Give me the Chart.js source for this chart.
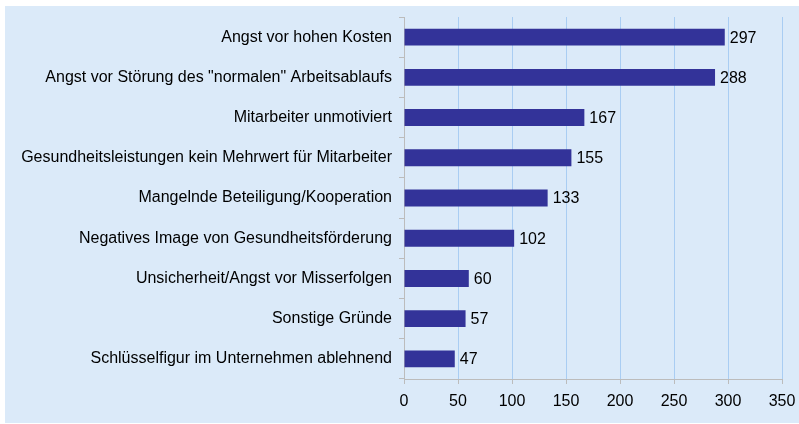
<!DOCTYPE html>
<html>
<head>
<meta charset="utf-8">
<script src="https://cdn.jsdelivr.net/npm/chart.js@4/dist/chart.umd.min.js"></script>
<style>
  html, body { margin: 0; padding: 0; background: #fff; }
  .chart-box {
    position: absolute;
    left: 5px;
    top: 6px;
    width: 794px;
    height: 417px;
    background: #dbeaf9;
  }
</style>
</head>
<body>
<div class="chart-box"><canvas id="chart"></canvas></div>
<script>
// Data
const categories = [
  'Angst vor hohen Kosten',
  'Angst vor Störung des "normalen" Arbeitsablaufs',
  'Mitarbeiter unmotiviert',
  'Gesundheitsleistungen kein Mehrwert für Mitarbeiter',
  'Mangelnde Beteiligung/Kooperation',
  'Negatives Image von Gesundheitsförderung',
  'Unsicherheit/Angst vor Misserfolgen',
  'Sonstige Gründe',
  'Schlüsselfigur im Unternehmen ablehnend',
]
const values = [297, 288, 167, 155, 133, 102, 60, 57, 47]
const xTicks = [0, 50, 100, 150, 200, 250, 300, 350]

Chart.defaults.font = {
  family: '"Liberation Sans", Arial, sans-serif',
  size: 16,
}
Chart.defaults.color = '#000'

// value labels at the end of each bar
const barValues = {
  id: 'barValues',
  afterDatasetsDraw(chart) {
    const { ctx } = chart
    const meta = chart.getDatasetMeta(0)
    ctx.save()
    ctx.font = '16px "Liberation Sans", Arial, sans-serif'
    ctx.fillStyle = '#000'
    ctx.textAlign = 'left'
    ctx.textBaseline = 'middle'
    meta.data.forEach((bar, i) => {
      ctx.fillText(String(values[i]), bar.x + 5, bar.y + 1)
    })
    ctx.restore()
  },
}

new Chart(document.getElementById('chart'), {
  type: 'bar',
  data: {
    labels: categories,
    datasets: [
      {
        data: values,
        backgroundColor: '#333399',
        barPercentage: 0.42,
        categoryPercentage: 1,
      },
    ],
  },
  options: {
    indexAxis: 'y',
    responsive: true,
    maintainAspectRatio: false,
    animation: false,
    events: [],
    layout: {
      padding: { left: 0, right: 17, top: 11, bottom: 12 },
    },
    plugins: {
      legend: { display: false },
      tooltip: { enabled: false },
    },
    scales: {
      x: {
        min: 0,
        max: 350,
        afterBuildTicks: (scale) => {
          scale.ticks = xTicks.map((v) => ({ value: v }))
        },
        afterFit: (scale) => {
          scale.height = 32
          scale.paddingLeft = 0
          scale.paddingRight = 0
        },
        grid: {
          color: '#a9cdf3',
          tickColor: '#bcbcbc',
          tickLength: 5,
        },
        border: { color: '#bcbcbc' },
        ticks: { padding: 8, maxRotation: 0 },
      },
      y: {
        afterFit: (scale) => {
          scale.width = 399
          scale.paddingTop = 0
          scale.paddingBottom = 0
        },
        grid: {
          drawOnChartArea: false,
          color: '#bcbcbc',
          tickLength: 5,
        },
        border: { color: '#bcbcbc' },
        ticks: { padding: 7 },
      },
    },
  },
  plugins: [barValues],
})
</script>
</body>
</html>
